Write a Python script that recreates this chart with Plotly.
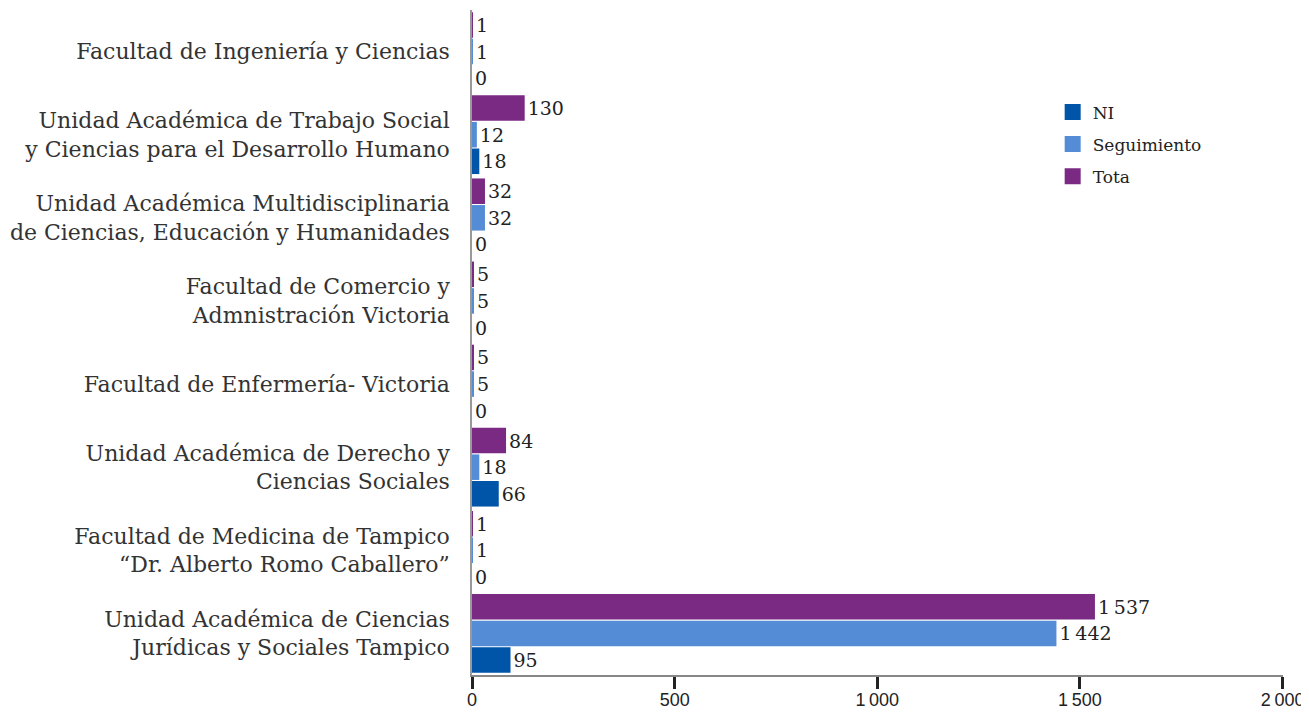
import plotly.graph_objects as go

categories = [
    "Facultad de Ingeniería y Ciencias",
    "Unidad Académica de Trabajo Social<br>y Ciencias para el Desarrollo Humano",
    "Unidad Académica Multidisciplinaria<br>de Ciencias, Educación y Humanidades",
    "Facultad de Comercio y<br>Admnistración Victoria",
    "Facultad de Enfermería- Victoria",
    "Unidad Académica de Derecho y<br>Ciencias Sociales",
    "Facultad de Medicina de Tampico<br>“Dr. Alberto Romo Caballero”",
    "Unidad Académica de Ciencias<br>Jurídicas y Sociales Tampico",
]
tota = [1, 130, 32, 5, 5, 84, 1, 1537]
seguimiento = [1, 12, 32, 5, 5, 18, 1, 1442]
ni = [0, 18, 0, 0, 0, 66, 0, 95]

x_ticks = [0, 500, 1000, 1500, 2000]
x_tick_labels = ["0", "500", "1\u2009000", "1\u2009500", "2\u2009000"]

colors = {"NI": "#0055A8", "Seguimiento": "#548DD6", "Tota": "#7B2A83"}
serif = "DejaVu Serif"

fig = go.Figure()
for name, vals in [("Tota", tota), ("Seguimiento", seguimiento), ("NI", ni)]:
    fig.add_trace(go.Bar(
        y=categories, x=vals, name=name, orientation="h",
        marker=dict(color=colors[name], line=dict(width=0)),
        text=[f"{v:,}".replace(",", "\u2009") for v in vals],
        textposition="outside", cliponaxis=False,
        textfont=dict(family=serif, size=19, color="#222"),
        showlegend=False,
    ))

# legend entries with larger square swatches
for name in ["NI", "Seguimiento", "Tota"]:
    fig.add_trace(go.Scatter(
        x=[None], y=[None], mode="markers", name=name, legendgroup=name,
        marker=dict(symbol="square", size=20, color=colors[name]),
        showlegend=True,
    ))

fig.update_layout(
    width=1309, height=715,
    margin=dict(l=462, r=34, t=2, b=48),
    paper_bgcolor="white", plot_bgcolor="white",
    barmode="group", bargap=0.04, bargroupgap=0.04,
    showlegend=True,
    legend=dict(x=0.716, y=0.873, xanchor="left", yanchor="top",
                traceorder="grouped",
                font=dict(family=serif, size=17, color="#222"),
                itemwidth=30, tracegroupgap=7),
    xaxis=dict(range=[0, 2001], tickvals=x_ticks, ticktext=x_tick_labels,
               showgrid=False, zeroline=False, showline=True,
               linecolor="#888", linewidth=2, ticks="outside", ticklen=12,
               tickwidth=3, tickcolor="#222", ticklabeloverflow="allow",
               ticklabelstandoff=-5,
               tickfont=dict(family="Liberation Sans", size=18, color="#222")),
    yaxis=dict(autorange="reversed", showgrid=False, zeroline=False,
               showline=True, linecolor="#999", linewidth=1.5, ticks="",
               ticklabelstandoff=16,
               tickfont=dict(family=serif, size=22, color="#333")),
)

fig.write_html("out.html")
